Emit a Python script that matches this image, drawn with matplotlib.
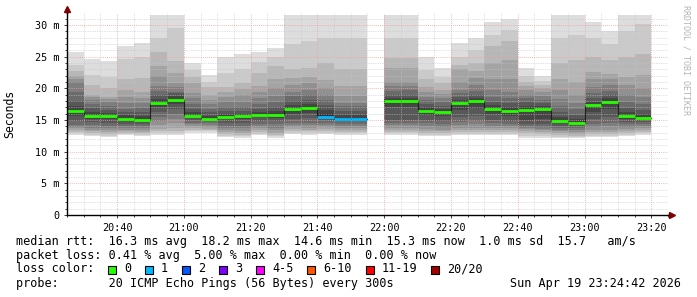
"""Graphique smokeping : fumee des 20 pings par pas de 5 min + mediane coloree par perte."""
import matplotlib
matplotlib.use("Agg")
import matplotlib.pyplot as plt
from matplotlib.patches import Rectangle

MONO = "DejaVu Sans Mono"
ENCRE, FLECHE = "#000000", "#7f0000"
GRIS_MIN, ROUGE_MAJ = "#c4c4c4", "#e9a3a3"

# debut de chaque pas de 5 min (21:55 manque)
debuts = ["20:25", "20:30", "20:35", "20:40", "20:45", "20:50", "20:55",
          "21:00", "21:05", "21:10", "21:15", "21:20", "21:25", "21:30",
          "21:35", "21:40", "21:45", "21:50", "22:00", "22:05", "22:10",
          "22:15", "22:20", "22:25", "22:30", "22:35", "22:40", "22:45",
          "22:50", "22:55", "23:00", "23:05", "23:10", "23:15"]

# mediane (ms) et pings perdus sur 20
mediane = [16.4, 15.6, 15.6, 15.1, 15.0, 17.7, 18.2, 15.6, 15.2, 15.5, 15.6,
           15.8, 15.8, 16.8, 16.9, 15.5, 15.2, 15.2, 18.0, 18.0, 16.5, 16.2,
           17.7, 18.0, 16.7, 16.5, 16.6, 16.7, 14.9, 14.6, 17.3, 17.8, 15.6, 15.3]
perte = [0] * 15 + [1, 1, 1] + [0] * 16

# pings tries (ms) de chaque pas
pings = [
    [12.7, 12.9, 13.1, 13.4, 13.7, 13.9, 14.2, 14.8, 15.6, 16.3, 16.6, 17.2, 18.0, 19.5, 21.0, 21.5, 22.0, 22.8, 23.7, 25.8],
    [12.4, 12.6, 12.9, 13.2, 13.5, 13.8, 14.2, 14.7, 15.2, 15.5, 15.8, 16.3, 16.9, 17.5, 18.2, 18.6, 18.9, 20.5, 22.1, 24.7],
    [12.3, 12.5, 12.8, 13.1, 13.4, 13.7, 14.1, 14.6, 15.1, 15.5, 15.7, 16.1, 16.6, 17.2, 17.8, 18.3, 18.7, 20.0, 21.8, 24.3],
    [12.6, 12.8, 13.0, 13.2, 13.5, 13.8, 14.1, 14.4, 14.8, 15.0, 15.3, 15.8, 16.3, 16.8, 17.7, 18.6, 19.7, 21.5, 24.7, 26.7],
    [12.5, 12.7, 12.9, 13.1, 13.4, 13.7, 14.0, 14.3, 14.7, 14.9, 15.2, 15.7, 16.2, 16.9, 17.7, 18.5, 19.5, 21.6, 25.0, 27.1],
    [12.6, 12.9, 13.2, 13.6, 14.2, 14.9, 15.5, 16.3, 17.0, 17.6, 17.8, 18.3, 18.9, 19.6, 20.4, 22.0, 23.5, 25.8, 28.0, 31.6],
    [12.6, 12.9, 13.3, 13.8, 14.5, 15.2, 16.0, 16.8, 17.6, 18.1, 18.3, 18.8, 19.2, 19.5, 20.2, 20.9, 22.5, 24.3, 29.6, 31.6],
    [13.0, 13.2, 13.4, 13.7, 14.0, 14.3, 14.6, 15.0, 15.3, 15.5, 15.7, 16.2, 16.8, 17.6, 18.5, 19.3, 20.8, 21.8, 22.9, 24.0],
    [13.0, 13.2, 13.4, 13.6, 13.9, 14.2, 14.5, 14.8, 15.0, 15.2, 15.3, 15.7, 16.2, 16.8, 17.5, 18.2, 19.0, 20.2, 21.0, 22.1],
    [12.3, 12.5, 12.8, 13.1, 13.4, 13.7, 14.1, 14.6, 15.1, 15.4, 15.6, 15.9, 16.4, 17.0, 17.8, 18.6, 19.4, 20.2, 22.5, 25.0],
    [12.2, 12.4, 12.7, 13.0, 13.3, 13.7, 14.1, 14.6, 15.1, 15.5, 15.7, 16.0, 16.5, 17.1, 17.9, 18.9, 19.9, 20.9, 23.0, 25.4],
    [12.6, 12.8, 13.1, 13.4, 13.7, 14.0, 14.4, 14.9, 15.4, 15.7, 15.9, 16.3, 16.7, 17.5, 18.4, 19.5, 20.3, 22.5, 24.2, 25.7],
    [12.2, 12.4, 12.7, 13.0, 13.4, 13.8, 14.3, 14.8, 15.3, 15.7, 16.0, 16.4, 17.0, 17.8, 18.8, 20.1, 21.5, 23.5, 25.0, 26.4],
    [12.8, 13.0, 13.3, 13.6, 13.9, 14.2, 14.6, 15.2, 16.0, 16.7, 16.9, 17.4, 18.0, 18.8, 19.5, 20.5, 21.6, 23.0, 27.0, 31.6],
    [12.7, 12.9, 13.2, 13.5, 13.8, 14.2, 14.6, 15.3, 16.1, 16.8, 17.1, 17.6, 18.2, 19.0, 19.8, 20.8, 21.8, 23.2, 27.5, 31.6],
    [12.8, 13.0, 13.3, 13.6, 13.9, 14.2, 14.6, 15.0, 15.3, 15.5, 16.0, 16.6, 17.3, 18.2, 19.0, 20.0, 21.3, 24.0, 28.0, 31.6],
    [12.7, 12.9, 13.1, 13.4, 13.7, 14.0, 14.4, 14.8, 15.0, 15.2, 15.3, 15.8, 16.5, 17.2, 17.7, 18.8, 20.3, 23.0, 28.0, 31.6],
    [12.7, 12.9, 13.1, 13.4, 13.7, 14.0, 14.4, 14.8, 15.0, 15.2, 15.3, 15.8, 16.5, 17.2, 17.7, 18.8, 20.3, 23.0, 28.0, 31.6],
    [12.6, 12.9, 13.1, 13.4, 13.8, 14.2, 14.6, 15.0, 17.0, 17.9, 18.1, 18.5, 19.0, 19.6, 20.3, 21.0, 23.2, 24.8, 28.0, 31.6],
    [12.6, 12.9, 13.1, 13.4, 13.8, 14.2, 14.6, 15.0, 17.0, 17.9, 18.1, 18.5, 19.0, 19.7, 20.3, 21.0, 23.2, 24.8, 28.0, 31.6],
    [12.5, 12.7, 13.0, 13.3, 13.6, 14.0, 14.5, 15.0, 15.8, 16.4, 16.6, 17.0, 17.5, 18.1, 18.7, 19.5, 20.2, 21.5, 22.9, 25.0],
    [12.4, 12.6, 12.9, 13.2, 13.5, 13.9, 14.4, 14.9, 15.6, 16.1, 16.3, 16.7, 17.2, 17.8, 18.5, 19.1, 19.7, 20.8, 21.8, 23.2],
    [12.6, 12.8, 13.1, 13.4, 13.8, 14.2, 14.7, 15.4, 16.6, 17.6, 17.8, 18.2, 18.7, 19.3, 19.8, 21.0, 23.0, 23.7, 25.0, 27.1],
    [12.6, 12.8, 13.1, 13.4, 13.8, 14.3, 14.9, 15.7, 16.9, 17.9, 18.1, 18.5, 19.0, 19.6, 20.5, 21.6, 22.8, 24.0, 26.0, 28.0],
    [12.6, 12.8, 13.1, 13.4, 13.7, 14.1, 14.5, 15.0, 15.9, 16.6, 16.8, 17.3, 17.9, 18.7, 19.7, 21.5, 24.0, 26.7, 28.5, 30.5],
    [12.6, 12.8, 13.1, 13.4, 13.7, 14.0, 14.4, 14.9, 15.7, 16.4, 16.6, 17.1, 17.7, 18.5, 19.5, 21.5, 24.5, 27.4, 29.2, 30.9],
    [12.2, 12.5, 12.9, 13.3, 13.6, 13.8, 14.0, 14.3, 15.0, 16.5, 16.7, 17.2, 17.8, 18.4, 19.0, 19.7, 20.3, 21.0, 22.0, 23.2],
    [12.2, 12.5, 12.8, 13.1, 13.4, 13.6, 13.9, 14.3, 15.2, 16.6, 16.8, 17.2, 17.7, 18.2, 18.8, 19.4, 20.0, 20.5, 21.2, 21.9],
    [12.1, 12.3, 12.6, 12.9, 13.2, 13.5, 13.8, 14.1, 14.5, 14.8, 15.0, 15.5, 16.2, 17.2, 18.3, 19.8, 21.5, 24.0, 28.0, 31.6],
    [12.1, 12.3, 12.5, 12.8, 13.1, 13.4, 13.7, 14.0, 14.3, 14.5, 14.6, 15.1, 15.8, 16.7, 17.7, 19.0, 21.0, 24.5, 28.5, 31.6],
    [12.3, 12.5, 12.8, 13.1, 13.5, 13.9, 14.4, 15.1, 16.3, 17.2, 17.4, 17.9, 18.5, 19.3, 20.2, 21.4, 22.6, 25.0, 28.0, 30.5],
    [12.3, 12.5, 12.8, 13.1, 13.5, 14.0, 14.6, 15.4, 16.7, 17.7, 17.9, 18.4, 18.9, 19.6, 20.5, 21.4, 22.3, 24.5, 27.0, 29.1],
    [12.5, 12.7, 13.0, 13.3, 13.6, 13.9, 14.3, 14.7, 15.2, 15.5, 15.7, 16.2, 16.9, 17.8, 19.0, 20.5, 21.8, 25.0, 29.0, 31.6],
    [12.7, 12.9, 13.1, 13.4, 13.7, 14.0, 14.3, 14.7, 15.0, 15.2, 15.4, 15.9, 16.6, 17.6, 18.7, 20.0, 22.1, 25.5, 30.2, 31.6],
]

# legende des pertes
pertes_lbl = ["0", "1", "2", "3", "4-5", "6-10", "11-19", "20/20"]
pertes_coul = ["#26ff00", "#00b8ff", "#0059ff", "#7e00ff", "#ff00ff", "#ff5500", "#ff0000", "#a10000"]

heures_lbl = ["20:40", "21:00", "21:20", "21:40", "22:00", "22:20", "22:40", "23:00", "23:20"]


def minutes(hhmm):
    h, m = hhmm.split(":")
    return int(h) * 60 + int(m)


PAS = 5
X0, X1 = minutes("20:25"), minutes("23:25")
YMAX = 31.9

fig = plt.figure(figsize=(6.97, 2.97), dpi=100)
ax = fig.add_axes([67 / 697, 82 / 297, 601 / 697, 202 / 297])

# fumee : bandes p_i..p_{21-i}, plus sombres vers le centre
for deb, p in zip(debuts, pings):
    x = minutes(deb)
    for i in range(10):
        g = int(190 / 10 * (10 - (i + 1))) + 50
        ax.bar(x, p[19 - i] - p[i], bottom=p[i], width=PAS, align="edge",
               color="#%02x%02x%02x" % (g, g, g), linewidth=0, zorder=1)

# mediane : trait fin sombre en escalier + segment epais colore
xs = [minutes(d) for d in debuts]
seg_x, seg_y = [], []
for k, x in enumerate(xs):
    if k and x != xs[k - 1] + PAS:
        ax.plot(seg_x, seg_y, color="#202020", lw=0.8, drawstyle="steps-post", zorder=3)
        seg_x, seg_y = [], []
    seg_x += [x, x + PAS]
    seg_y += [mediane[k], mediane[k]]
ax.plot(seg_x, seg_y, color="#202020", lw=0.8, drawstyle="steps-post", zorder=3)
for x, m, l in zip(xs, mediane, perte):
    ax.hlines(m, x, x + PAS, color=pertes_coul[l], lw=2.0, capstyle="butt", zorder=4)

ax.set_xlim(X0, X1)
ax.set_ylim(0, YMAX)
ax.set_xticks([minutes(h) for h in heures_lbl])
ax.set_xticklabels(heures_lbl)
ax.set_xticks(range(X0, X1 + 1, PAS), minor=True)
ax.set_yticks(range(0, 31, 5))
ax.set_yticklabels(["0"] + ["%d m" % v for v in range(5, 31, 5)])
ax.set_yticks(range(0, 32, 1), minor=True)
ax.grid(True, which="minor", color=GRIS_MIN, lw=0.5, ls=(0, (1, 1.5)))
ax.grid(True, which="major", color=ROUGE_MAJ, lw=0.6, ls=(0, (1, 1.5)))
ax.set_axisbelow(False)
ax.tick_params(which="both", direction="out", color="#404040", width=0.7,
               labelsize=7.3, labelcolor=ENCRE, labelfontfamily=MONO)
ax.tick_params(which="major", length=2.5, pad=3)
ax.tick_params(which="minor", length=1.5)
for s in ("top", "right"):
    ax.spines[s].set_visible(False)
for s in ("left", "bottom"):
    ax.spines[s].set_color(ENCRE)
    ax.spines[s].set_linewidth(1)
    ax.spines[s].set_zorder(5)

# prolongement des axes et fleches
ax.plot([1, 1.0067], [0, 0], transform=ax.transAxes, color=ENCRE, lw=1, clip_on=False)
ax.plot([0, 0], [1, 1.015], transform=ax.transAxes, color=ENCRE, lw=1, clip_on=False)
ax.plot([1.0067], [0], marker=">", ms=4, color=FLECHE, transform=ax.transAxes, clip_on=False)
ax.plot([0], [1.02], marker="^", ms=4, color=FLECHE, transform=ax.transAxes, clip_on=False)

fig.text(10 / 697, 1 - 114 / 297, "Seconds", rotation=90, ha="center", va="center",
         fontsize=8.3, family=MONO, color=ENCRE)
fig.text(686 / 697, 1 - 5 / 297, "RRDTOOL / TOBI OETIKER", rotation=270, ha="center",
         va="top", fontsize=6, family=MONO, color="#b4b4b4")

# bloc de legende
kw = dict(fontsize=8.45, family=MONO, color=ENCRE, va="center")
fig.text(16 / 697, 1 - 241 / 297,
         "median rtt:  16.3 ms avg  18.2 ms max  14.6 ms min  15.3 ms now  1.0 ms sd  15.7   am/s", **kw)
fig.text(16 / 697, 1 - 255 / 297,
         "packet loss: 0.41 % avg  5.00 % max  0.00 % min  0.00 % now", **kw)
fig.text(16 / 697, 1 - 269 / 297, "loss color:", **kw)
fig.text(16 / 697, 1 - 283 / 297, "probe:       20 ICMP Echo Pings (56 Bytes) every 300s", **kw)
fig.text(681 / 697, 1 - 283 / 297, "Sun Apr 19 23:24:42 2026", ha="right", **kw)

px = 108
for lbl, coul in zip(pertes_lbl, pertes_coul):
    fig.patches.append(Rectangle((px / 697, 1 - 273.5 / 297), 8 / 697, 8 / 297,
                                 transform=fig.transFigure, facecolor=coul,
                                 edgecolor=ENCRE, lw=0.8))
    fig.text((px + 16) / 697, 1 - 269 / 297, lbl, **kw)
    px += 16 + 7.07 * len(lbl) + 14

fig.savefig("out.png", dpi=100)
plt.close(fig)
